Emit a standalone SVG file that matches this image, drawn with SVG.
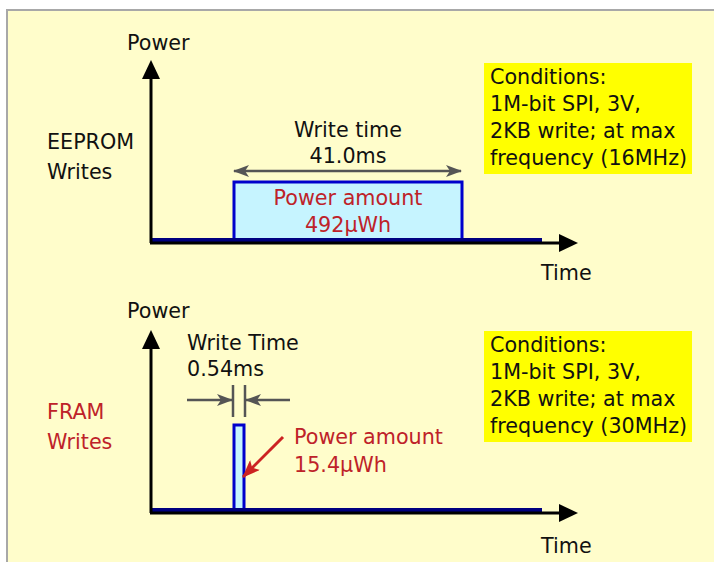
<svg xmlns="http://www.w3.org/2000/svg" width="714" height="562" viewBox="0 0 714 562">
<style>
text{font-family:"DejaVu Sans","Liberation Sans",sans-serif;font-size:20.7px;fill:#111}
.red{fill:#BE2229}
.c{text-anchor:middle}
.axis{stroke:#000;stroke-width:3;fill:none}
.base{stroke:#000080;stroke-width:5;fill:none}
.pulse{stroke:#0000CC;stroke-width:3;fill:#C6F4FF}
.dim{stroke:#555;stroke-width:2.5;fill:none}
.cond{fill:#FFFF00}
</style>
<defs>
<marker id="gh" viewBox="0 0 16 12" refX="15" refY="6" markerWidth="16" markerHeight="12" markerUnits="userSpaceOnUse" orient="auto-start-reverse">
<path d="M0,0 L16,6 L0,12 L4,6 Z" fill="#555"/>
</marker>
<marker id="rh" viewBox="0 0 18 14" refX="17" refY="7" markerWidth="18" markerHeight="14" markerUnits="userSpaceOnUse" orient="auto">
<path d="M0,0 L18,7 L0,14 L4,7 Z" fill="#CC2222"/>
</marker>
</defs>
<rect x="7" y="10" width="720" height="570" fill="#FFFDCB" stroke="#A8A8A8" stroke-width="2"/>

<g id="eeprom-chart">
<text x="127" y="50">Power</text>
<text x="47" y="149">EEPROM</text>
<text x="47" y="179">Writes</text>
<text x="541" y="280">Time</text>
<rect class="pulse" x="234" y="182" width="228" height="58"/>
<line class="base" x1="151" y1="240.5" x2="542" y2="240.5"/>
<line class="axis" x1="151" y1="243" x2="151" y2="76"/>
<polygon points="151,60 142,79 160,79" fill="#000"/>
<line class="axis" x1="150" y1="243" x2="562" y2="243"/>
<polygon points="578,243 559,234 559,252" fill="#000"/>
<line class="dim" x1="234" y1="171" x2="461" y2="171" marker-start="url(#gh)" marker-end="url(#gh)"/>
<text class="c" x="348" y="137">Write time</text>
<text class="c" x="348" y="163">41.0ms</text>
<text class="c red" x="348" y="205">Power amount</text>
<text class="c red" x="348" y="232">492μWh</text>
</g>

<g id="eeprom-conditions">
<rect class="cond" x="484" y="63" width="208" height="111"/>
<text x="490" y="84">Conditions:</text>
<text x="490" y="111">1M-bit SPI, 3V,</text>
<text x="490" y="138">2KB write; at max</text>
<text x="490" y="165">frequency (16MHz)</text>
</g>

<g id="fram-chart">
<text x="127" y="318">Power</text>
<text class="red" x="47" y="419">FRAM</text>
<text class="red" x="47" y="449">Writes</text>
<text x="541" y="553">Time</text>
<rect class="pulse" x="234" y="425" width="10" height="85"/>
<line class="base" x1="151" y1="510.5" x2="542" y2="510.5"/>
<line class="axis" x1="151" y1="513" x2="151" y2="346"/>
<polygon points="151,330 142,349 160,349" fill="#000"/>
<line class="axis" x1="150" y1="513" x2="562" y2="513"/>
<polygon points="578,513 559,504 559,522" fill="#000"/>
<text x="187" y="350">Write Time</text>
<text x="187" y="376">0.54ms</text>
<line class="dim" x1="233" y1="385" x2="233" y2="417"/>
<line class="dim" x1="245" y1="385" x2="245" y2="417"/>
<line class="dim" x1="187" y1="400" x2="232" y2="400" marker-end="url(#gh)"/>
<line class="dim" x1="290" y1="400" x2="246" y2="400" marker-end="url(#gh)"/>
<text class="red" x="294" y="444">Power amount</text>
<text class="red" x="294" y="472">15.4μWh</text>
<line x1="283" y1="437" x2="243" y2="477" stroke="#CC2222" stroke-width="3" marker-end="url(#rh)"/>
</g>

<g id="fram-conditions">
<rect class="cond" x="484" y="331" width="208" height="111"/>
<text x="490" y="352">Conditions:</text>
<text x="490" y="379">1M-bit SPI, 3V,</text>
<text x="490" y="406">2KB write; at max</text>
<text x="490" y="433">frequency (30MHz)</text>
</g>
</svg>
